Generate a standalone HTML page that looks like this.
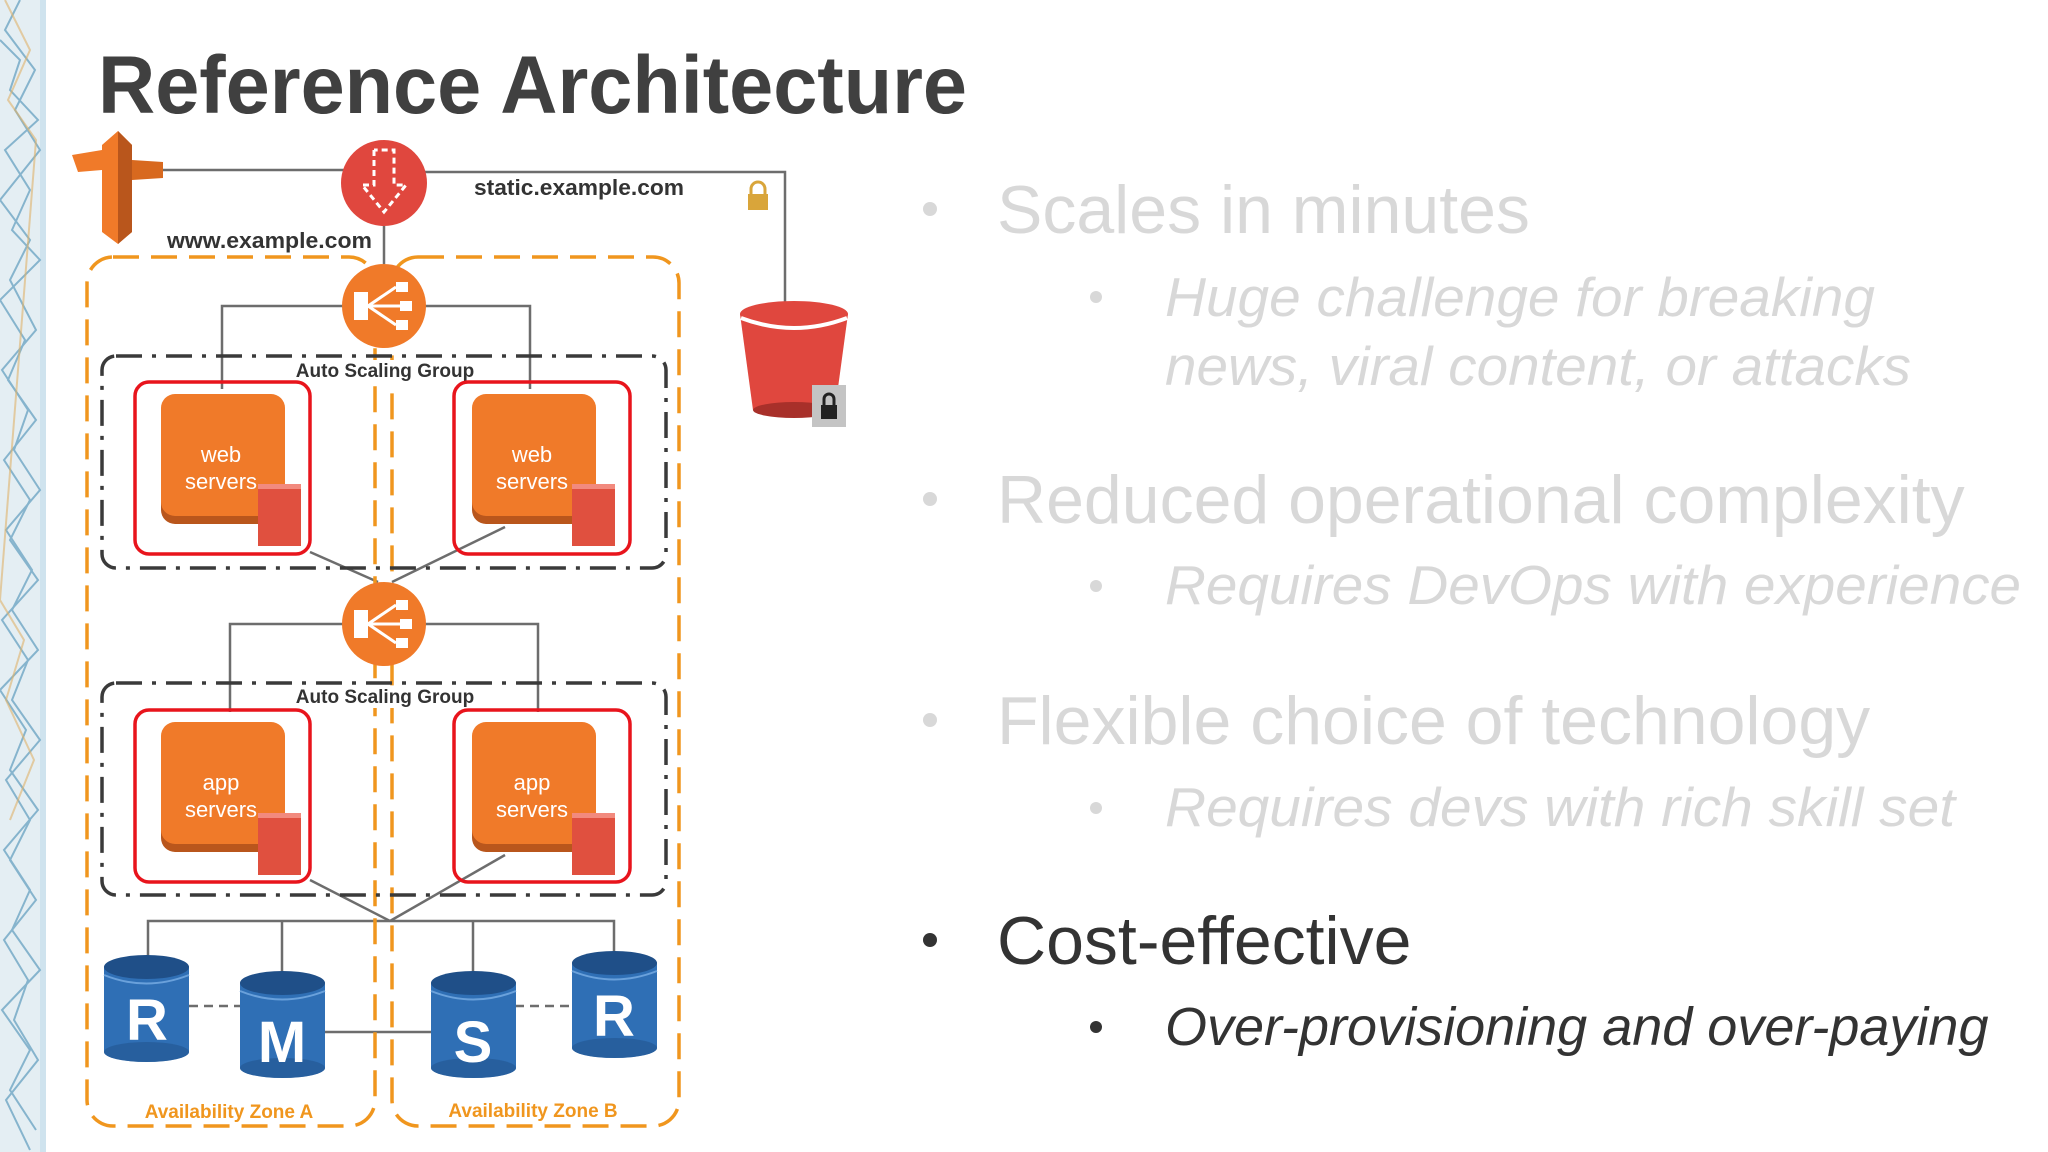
<!DOCTYPE html>
<html><head><meta charset="utf-8"><style>html,body{margin:0;padding:0;background:#fff}svg{display:block}</style></head>
<body>
<svg width="2048" height="1152" viewBox="0 0 2048 1152" xmlns="http://www.w3.org/2000/svg" font-family="Liberation Sans, sans-serif">
<rect width="2048" height="1152" fill="#fff"/>
<rect x="0" y="0" width="46" height="1152" fill="#e4eef3"/>
<rect x="40" y="0" width="6" height="1152" fill="#cfe3ee"/>
<g stroke="#6fa6c4" stroke-width="2" fill="none" opacity="0.8">
<polyline points="0,40 20,60 10,90 38,120 5,150 30,190 12,230 40,260 0,300 25,340 8,380 36,420 4,460 30,500 10,540 38,580 2,620 28,660 12,700 40,740 6,780 30,820 10,860 36,900 4,940 28,980 14,1020 38,1060 6,1100 30,1150"/>
<polyline points="20,0 5,30 35,70 15,110 40,150 0,200 30,240 10,280 36,330 2,370 28,410 14,450 40,490 6,530 32,570 12,610 38,650 0,690 26,730 10,770 38,810 4,850 30,890 12,930 40,970 2,1010 30,1050 10,1090 36,1130"/>
</g>
<g stroke="#e0b36a" stroke-width="2" fill="none" opacity="0.6">
<polyline points="5,0 30,50 8,100 36,140 0,600 24,640 6,700 34,760 10,820"/>
</g>
<text x="98" y="113" font-size="82" font-weight="bold" fill="#404040" textLength="869" lengthAdjust="spacingAndGlyphs">Reference Architecture</text>

<g stroke="#6d6d6d" stroke-width="2.5" fill="none">
<polyline points="163,170 345,170"/>
<polyline points="425,172 785,172 785,303"/>
<line x1="384" y1="226" x2="384" y2="264"/>
<polyline points="222,389 222,306 530,306 530,389"/>
<line x1="310" y1="552" x2="378" y2="582"/>
<line x1="505" y1="527" x2="392" y2="582"/>
<polyline points="230,712 230,624 538,624 538,712"/>
<line x1="310" y1="880" x2="390" y2="921"/>
<line x1="505" y1="855" x2="390" y2="921"/>
<polyline points="148,957 148,921 614,921 614,953"/>
<line x1="282" y1="921" x2="282" y2="973"/>
<line x1="473" y1="921" x2="473" y2="973"/>
<line x1="324" y1="1032" x2="431" y2="1032"/>
</g>
<g stroke="#6d6d6d" stroke-width="2.5" stroke-dasharray="9,6">
<line x1="189" y1="1006" x2="240" y2="1006"/>
<line x1="515" y1="1006" x2="572" y2="1006"/>
</g>

<g stroke="#f0961e" stroke-width="3.5" fill="none" stroke-dasharray="26,12">
<rect x="87" y="257" width="288" height="869" rx="26"/>
<rect x="392" y="257" width="287" height="869" rx="26"/>
</g>
<text x="229" y="1118" font-size="19" font-weight="bold" fill="#f0961e" text-anchor="middle">Availability Zone A</text>
<text x="533" y="1117" font-size="19" font-weight="bold" fill="#f0961e" text-anchor="middle">Availability Zone B</text>

<g stroke="#3a3a3a" stroke-width="3.5" fill="none" stroke-dasharray="26,10,4,10">
<rect x="102" y="356" width="564" height="212" rx="14"/>
<rect x="102" y="683" width="564" height="212" rx="14"/>
</g>
<rect x="290" y="360" width="190" height="22" fill="#fff"/>
<rect x="290" y="686" width="190" height="22" fill="#fff"/>
<text x="385" y="377" font-size="19" font-weight="bold" fill="#333" text-anchor="middle">Auto Scaling Group</text>
<text x="385" y="703" font-size="19" font-weight="bold" fill="#333" text-anchor="middle">Auto Scaling Group</text>

<g stroke="#e8141c" stroke-width="3.5" fill="none">
<rect x="135" y="382" width="175" height="172" rx="14"/>
<rect x="454" y="382" width="176" height="172" rx="14"/>
<rect x="135" y="710" width="175" height="172" rx="14"/>
<rect x="454" y="710" width="176" height="172" rx="14"/>
</g>
<g>
<rect x="161" y="400" width="124" height="124" rx="14" fill="#b9561c"/>
<rect x="161" y="394" width="124" height="122" rx="14" fill="#f07a29"/>
<rect x="472" y="400" width="124" height="124" rx="14" fill="#b9561c"/>
<rect x="472" y="394" width="124" height="122" rx="14" fill="#f07a29"/>
<rect x="161" y="728" width="124" height="124" rx="14" fill="#b9561c"/>
<rect x="161" y="722" width="124" height="122" rx="14" fill="#f07a29"/>
<rect x="472" y="728" width="124" height="124" rx="14" fill="#b9561c"/>
<rect x="472" y="722" width="124" height="122" rx="14" fill="#f07a29"/>
</g>
<g fill="#e0503f">
<rect x="258" y="484" width="43" height="62"/><rect x="572" y="484" width="43" height="62"/>
<rect x="258" y="813" width="43" height="62"/><rect x="572" y="813" width="43" height="62"/>
</g>
<g fill="#f28a7e"><rect x="258" y="484" width="43" height="5"/><rect x="572" y="484" width="43" height="5"/><rect x="258" y="813" width="43" height="5"/><rect x="572" y="813" width="43" height="5"/></g>
<g font-size="22" fill="#fff" text-anchor="middle">
<text x="221" y="462">web</text><text x="221" y="489">servers</text>
<text x="532" y="462">web</text><text x="532" y="489">servers</text>
<text x="221" y="790">app</text><text x="221" y="817">servers</text>
<text x="532" y="790">app</text><text x="532" y="817">servers</text>
</g>

<g>
<polygon points="102,145 118,131 132,145 132,232 118,244 102,232" fill="#f07a29"/>
<polygon points="118,131 132,145 132,232 118,244" fill="#b9561c"/>
<polygon points="72,155 102,150 102,170 78,172" fill="#f07a29"/>
<polygon points="132,160 163,162 163,178 132,180" fill="#d8691f"/>
</g>

<circle cx="384" cy="183" r="43" fill="#e0473e"/>
<g stroke="#fff" stroke-width="3" fill="none" stroke-dasharray="6,4">
<polyline points="374,150 374,185 362,185 384,212 406,185 394,185 394,150 374,150"/>
</g>

<g id="elb">
<circle cx="384" cy="306" r="42" fill="#f07a29"/>
<rect x="354" y="292" width="14" height="28" fill="#fff"/>
<rect x="396" y="282" width="12" height="10" fill="#fff"/><rect x="400" y="301" width="12" height="10" fill="#fff"/><rect x="396" y="320" width="12" height="10" fill="#fff"/>
<g stroke="#fff" stroke-width="3"><line x1="368" y1="306" x2="396" y2="287"/><line x1="368" y1="306" x2="400" y2="306"/><line x1="368" y1="306" x2="396" y2="325"/></g>
</g>
<use href="#elb" transform="translate(0,318)"/>

<polygon points="740,314 848,314 835,410 753,410" fill="#e0473e"/>
<ellipse cx="794" cy="410" rx="41" ry="8" fill="#a8302a"/>
<ellipse cx="794" cy="314" rx="54" ry="13" fill="#e0473e"/>
<path d="M741,318 Q794,338 847,318" stroke="#fff" stroke-width="4" fill="none"/>
<rect x="812" y="385" width="34" height="42" fill="#c4c4c4"/>
<rect x="821" y="405" width="16" height="14" fill="#222"/>
<path d="M824,405 v-6 a5,5 0 0 1 10,0 v6" stroke="#222" stroke-width="3" fill="none"/>
<rect x="748" y="194" width="20" height="16" fill="#d9a53a"/>
<path d="M751,194 v-5 a7,7 0 0 1 14,0 v5" stroke="#d9a53a" stroke-width="3" fill="none"/>

<text x="474" y="195" font-size="22" font-weight="bold" fill="#333" textLength="210" lengthAdjust="spacingAndGlyphs">static.example.com</text>
<text x="167" y="248" font-size="22" font-weight="bold" fill="#333" textLength="205" lengthAdjust="spacingAndGlyphs">www.example.com</text>

<g id="db">
<rect x="104" y="967" width="85" height="85" fill="#2f6fb5"/>
<ellipse cx="146.5" cy="1052" rx="42.5" ry="10" fill="#2f6fb5"/>
<ellipse cx="146.5" cy="1052" rx="42.5" ry="10" fill="#1f4f88" opacity="0.5"/>
<ellipse cx="146.5" cy="967" rx="42.5" ry="12" fill="#1f4f88"/>
<path d="M104,975 Q146,992 189,975" stroke="#6aa1db" stroke-width="2" fill="none"/>
</g>
<use href="#db" transform="translate(136,16)"/>
<use href="#db" transform="translate(327,16)"/>
<use href="#db" transform="translate(468,-4)"/>
<g font-size="58" font-weight="bold" fill="#fff" text-anchor="middle">
<text x="147" y="1040">R</text><text x="282" y="1062">M</text><text x="473" y="1062">S</text><text x="614" y="1036">R</text>
</g>

<g fill="#d8d8d8">
<circle cx="930" cy="209" r="7"/><circle cx="1096" cy="297" r="6"/>
<circle cx="930" cy="499" r="7"/><circle cx="1096" cy="586" r="6"/>
<circle cx="930" cy="720" r="7"/><circle cx="1096" cy="808" r="6"/>
</g>
<g fill="#d8d8d8" font-size="68">
<text x="997" y="233">Scales in minutes</text>
<text x="997" y="523">Reduced operational complexity</text>
<text x="997" y="744">Flexible choice of technology</text>
</g>
<g fill="#d8d8d8" font-size="55" font-style="italic">
<text x="1165" y="316" textLength="710" lengthAdjust="spacingAndGlyphs">Huge challenge for breaking</text>
<text x="1165" y="385" textLength="746" lengthAdjust="spacingAndGlyphs">news, viral content, or attacks</text>
<text x="1165" y="604" textLength="856" lengthAdjust="spacingAndGlyphs">Requires DevOps with experience</text>
<text x="1165" y="826" textLength="790" lengthAdjust="spacingAndGlyphs">Requires devs with rich skill set</text>
</g>
<circle cx="930" cy="940" r="7" fill="#333"/><circle cx="1096" cy="1027" r="6" fill="#333"/>
<text x="997" y="964" font-size="68" fill="#333">Cost-effective</text>
<text x="1165" y="1045" font-size="54" font-style="italic" fill="#333">Over-provisioning and over-paying</text>
</svg>
</body></html>
